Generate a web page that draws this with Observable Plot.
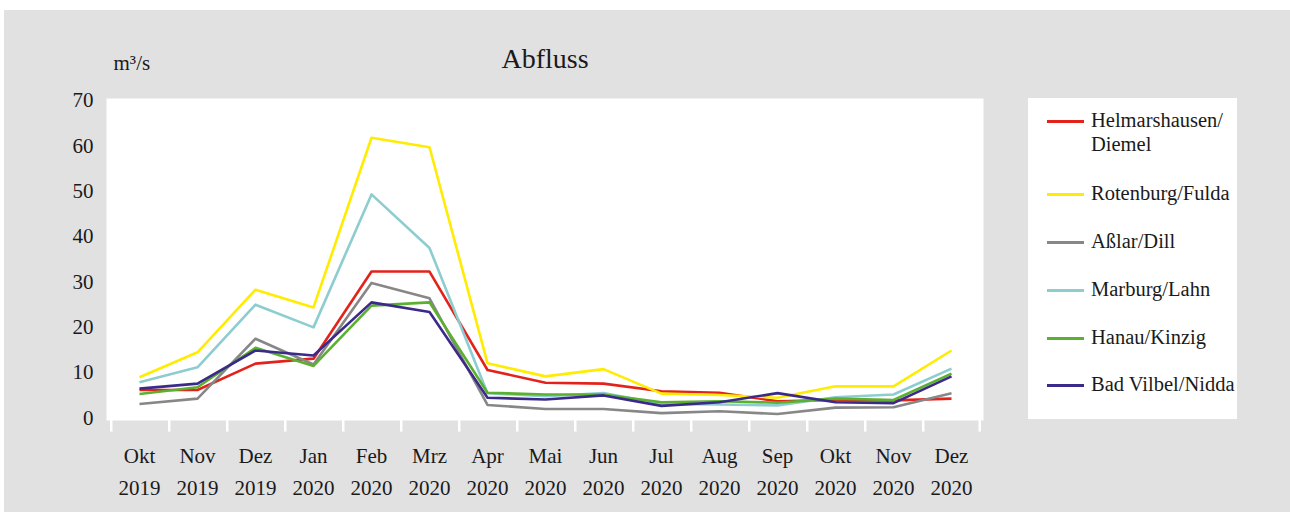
<!DOCTYPE html>
<html>
<head>
<meta charset="utf-8">
<script src="https://cdn.jsdelivr.net/npm/d3@7"></script>
<script src="https://cdn.jsdelivr.net/npm/@observablehq/plot@0.6"></script>
<style>
  html, body { margin: 0; padding: 0; background: #ffffff; }
  #page { position: relative; width: 1290px; height: 512px; overflow: hidden; font-family: "Liberation Serif", serif; color: #1a1a1a; }
  #bg { position: absolute; left: 4px; top: 10px; width: 1286px; height: 502px; background: #e1e1e1; }
  #chart { position: absolute; left: 0; top: 0; }
  #legend { position: absolute; left: 1028px; top: 98px; width: 209px; height: 321px; background: #ffffff; }
  .sw { position: absolute; left: 19px; width: 37px; height: 3px; }
  .lt { position: absolute; left: 63px; font-size: 20.5px; line-height: 23.7px; white-space: nowrap; }
</style>
</head>
<body>
<div id="page">
  <div id="bg"></div>
  <div id="chart"></div>
  <div id="legend"></div>
</div>
<script>
// ---- data ----
const months = ["Okt","Nov","Dez","Jan","Feb","Mrz","Apr","Mai","Jun","Jul","Aug","Sep","Okt","Nov","Dez"];
const years  = ["2019","2019","2019","2020","2020","2020","2020","2020","2020","2020","2020","2020","2020","2020","2020"];
const seriesNames = ["Helmarshausen/\nDiemel","Rotenburg/Fulda","Aßlar/Dill","Marburg/Lahn","Hanau/Kinzig","Bad Vilbel/Nidda"];
const seriesColors = ["#e3231b","#ffec00","#878787","#8dcdd0","#5cb030","#3b2a8a"];
const helmarshausen = [6.2, 6.2, 12.0, 13.1, 32.3, 32.3, 10.6, 7.8, 7.6, 5.9, 5.6, 3.7, 4.0, 3.9, 4.3];
const rotenburg     = [9.0, 14.5, 28.3, 24.4, 61.8, 59.7, 12.1, 9.2, 10.8, 5.4, 5.1, 4.5, 7.0, 7.0, 14.9];
const asslar        = [3.1, 4.3, 17.5, 11.8, 29.8, 26.4, 2.9, 2.0, 2.0, 1.1, 1.5, 0.9, 2.3, 2.4, 5.5];
const marburg       = [7.9, 11.2, 25.0, 20.0, 49.3, 37.5, 5.5, 4.8, 5.5, 3.1, 3.0, 2.8, 4.6, 5.2, 10.9];
const hanau         = [5.3, 6.8, 15.5, 11.5, 24.8, 25.5, 5.6, 5.2, 5.2, 3.5, 3.7, 3.4, 4.3, 4.0, 9.8];
const badVilbel     = [6.5, 7.6, 14.9, 13.8, 25.5, 23.4, 4.5, 4.1, 5.0, 2.7, 3.5, 5.5, 3.5, 3.3, 9.2];
const yTicks = [0, 10, 20, 30, 40, 50, 60, 70];
const gridTicks = [10, 20, 30, 40, 50, 60];
const title = "Abfluss";
const unit = "m³/s";

const allSeries = [helmarshausen, rotenburg, asslar, marburg, hanau, badVilbel];
const idx = months.map((_, i) => i);
const rows = [];
allSeries.forEach((vals, s) => vals.forEach((v, i) => rows.push({s, i, v})));

// ---- layout ----
const W = 1000, H = 512;
const mL = 106, mR = 17, mT = 98, mB = 92;
const step = (W - mL - mR) / months.length;

const chart = Plot.plot({
  width: W, height: H,
  marginLeft: mL, marginRight: mR, marginTop: mT, marginBottom: mB,
  style: { background: "transparent", fontFamily: "Liberation Serif, serif", fontSize: "21px", color: "#1a1a1a", overflow: "visible" },
  x: { type: "point", domain: idx, padding: 0.5 },
  y: { domain: [0, 70], range: [417.6, 100] },
  color: { type: "ordinal", domain: d3.range(seriesNames.length), range: seriesColors },
  marks: [
    Plot.frame({ fill: "white", stroke: null }),
    Plot.ruleY(gridTicks, { stroke: "#dcdcdc", strokeWidth: 2, x1: () => mL + 2, x2: W - mR, insetLeft: 0 }),
    Plot.axisY({ ticks: yTicks, tickSize: 0, tickPadding: 13, label: null, fontSize: 21 }),
    Plot.axisX({ ticks: idx, tickSize: 0, tickPadding: 19, label: null, lineHeight: 1.55, fontSize: 21,
                 tickFormat: i => months[i] + "\n" + years[i] }),
    Plot.line(rows, { x: "i", y: "v", z: "s", stroke: "s", strokeWidth: 2.6, strokeLinejoin: "round", strokeLinecap: "butt" }),
    Plot.ruleX(idx, { x: d => d, dx: -step / 2 + 1, y1: 0, y2: 0, stroke: "#ffffff", strokeWidth: 2.5, insetTop: 0, insetBottom: -14 }),
    Plot.ruleX([idx[idx.length - 1]], { x: d => d, dx: step / 2 - 1, y1: 0, y2: 0, stroke: "#ffffff", strokeWidth: 2.5, insetBottom: -14 }),
    Plot.text([title], { frameAnchor: "top", lineAnchor: "bottom", dy: -30.7, fontSize: 28, fill: "#1a1a1a" }),
    Plot.text([unit], { frameAnchor: "top-left", textAnchor: "start", lineAnchor: "bottom", dx: 7, dy: -28.7, fontSize: 21, fill: "#1a1a1a" })
  ]
});
document.getElementById("chart").appendChild(chart);

// ---- legend ----
const legend = document.getElementById("legend");
seriesNames.forEach((name, k) => {
  const cy = k === 0 ? 23.7 : 96.3 + (k - 1) * 47.9;
  const sw = document.createElement("div");
  sw.className = "sw";
  sw.style.top = (cy - 1.5) + "px";
  sw.style.background = seriesColors[k];
  legend.appendChild(sw);
  const t = document.createElement("div");
  t.className = "lt";
  t.style.top = (cy - 12.5) + "px";
  t.innerHTML = name.split("\n").join("<br>");
  legend.appendChild(t);
});
</script>
</body>
</html>
